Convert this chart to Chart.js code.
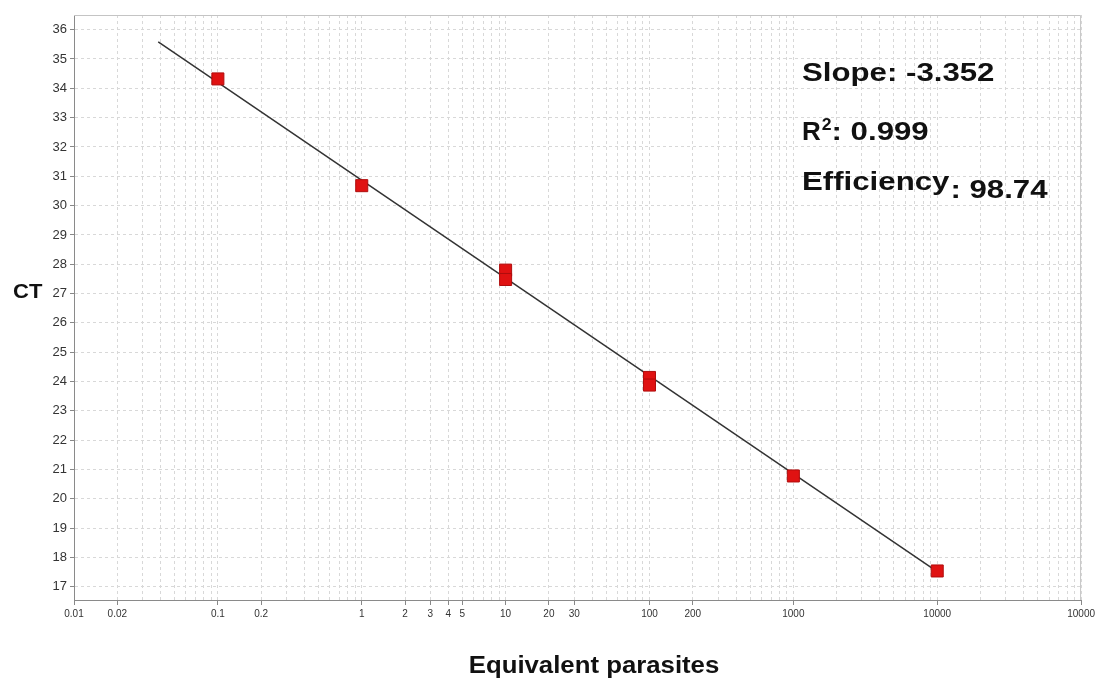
<!DOCTYPE html>
<html>
<head>
<meta charset="utf-8">
<script src="https://cdn.jsdelivr.net/npm/chart.js@4"></script>
<style>
  body { margin: 0; background: #fff; }
  canvas { display: block; }
</style>
</head>
<body>
<canvas id="myChart" width="1098" height="682"></canvas>
<script>
// Standard curve (CT vs equivalent parasites), log x axis

const standardX = [0.1, 1, 10, 10, 100, 100, 1000, 10000];        // equivalent parasites
const standardCT = [34.32, 30.68, 27.8, 27.48, 24.14, 23.88, 20.78, 17.54]; // measured CT

const fitX = [0.0385, 10000];   // regression line ends
const fitCT = [35.58, 17.52];

const xGridDecades = [0.01, 0.1, 1, 10, 100, 1000, 10000];
const xGridSteps = [1, 2, 3, 4, 5, 6, 7, 8, 9];
const xTickValues = [0.01, 0.02, 0.1, 0.2, 1, 2, 3, 4, 5, 10, 20, 30, 100, 200, 1000, 10000, 100000];
const xTickText = ['0.01', '0.02', '0.1', '0.2', '1', '2', '3', '4', '5', '10', '20', '30', '100', '200', '1000', '10000', '10000'];
const yTickValues = [17, 18, 19, 20, 21, 22, 23, 24, 25, 26, 27, 28, 29, 30, 31, 32, 33, 34, 35, 36];

const slopeText = 'Slope: -3.352';
const r2Text = '0.999';
const effText = '98.74';

// build tick list for the log grid
const xGridTicks = [];
xGridDecades.forEach(d => {
    xGridSteps.forEach(s => xGridTicks.push(+(d * s).toPrecision(3)));
});
xGridTicks.push(100000);

function labelFor(v) {
    const i = xTickValues.findIndex(t => Math.abs(t - v) / t < 1e-6);
    return i >= 0 ? xTickText[i] : '';
}

// draws horizontally stretched text, returns its drawn width
function wideText(ctx, text, x, y, sx) {
    ctx.save();
    ctx.translate(x, y);
    ctx.scale(sx, 1);
    ctx.fillText(text, 0, 0);
    ctx.restore();
    return ctx.measureText(text).width * sx;
}

const BIG = 'bold 26px "Liberation Sans", Arial, sans-serif';
const SX = 1.2;

const textPlugin = {
    id: 'texts',
    beforeDatasetsDraw(chart) {
        const {ctx, chartArea: a} = chart;
        ctx.save();
        ctx.strokeStyle = '#c4c4c4';
        ctx.lineWidth = 1;
        ctx.beginPath();
        ctx.moveTo(a.left, a.top + 0.5);
        ctx.lineTo(a.right - 0.5, a.top + 0.5);
        ctx.lineTo(a.right - 0.5, a.bottom);
        ctx.stroke();
        ctx.restore();
    },
    afterDraw(chart) {
        const ctx = chart.ctx;
        ctx.save();
        ctx.fillStyle = '#111';
        ctx.textBaseline = 'alphabetic';
        ctx.textAlign = 'left';

        ctx.font = BIG;
        wideText(ctx, slopeText, 802, 81, SX);

        // R squared
        let x = 802;
        x += wideText(ctx, 'R', x, 140, 1.0);
        ctx.font = 'bold 16px "Liberation Sans", Arial, sans-serif';
        x += wideText(ctx, '2', x + 1, 130, 1.1) + 1;
        ctx.font = BIG;
        wideText(ctx, ': ' + r2Text, x, 140, SX);

        x = 802;
        x += wideText(ctx, 'Efficiency', x, 190, SX);
        wideText(ctx, ': ' + effText, x + 1, 198, SX);

        // axis titles
        ctx.font = 'bold 20px "Liberation Sans", Arial, sans-serif';
        wideText(ctx, 'CT', 13, 298, 1.1);

        ctx.font = 'bold 23px "Liberation Sans", Arial, sans-serif';
        const t = 'Equivalent parasites';
        const w = ctx.measureText(t).width * 1.12;
        wideText(ctx, t, 594 - w / 2, 673, 1.12);
        ctx.restore();
    }
};

const ctx = document.getElementById('myChart');
const myChart = new Chart(ctx, {
    type: 'scatter',
    data: {
        datasets: [
            {
                label: 'Standards',
                data: standardX.map((x, i) => ({x: x, y: standardCT[i]})),
                pointStyle: 'rect',
                pointRadius: 8.5,
                backgroundColor: '#e01212',
                borderColor: '#b00d0d',
                borderWidth: 1
            },
            {
                label: 'Fit',
                data: fitX.map((x, i) => ({x: x, y: fitCT[i]})),
                showLine: true,
                pointRadius: 0,
                borderColor: '#333',
                borderWidth: 1.5
            }
        ]
    },
    options: {
        responsive: false,
        animation: false,
        layout: { padding: { top: 15, right: 15, left: 0, bottom: 0 } },
        scales: {
            x: {
                type: 'logarithmic',
                min: 0.01,
                max: 100000,
                afterBuildTicks: axis => { axis.ticks = xGridTicks.map(v => ({value: v})); },
                afterFit: axis => { axis.height = 82; },
                grid: {
                    color: '#d8d8d8',
                    tickLength: 5,
                    tickColor: c => (c.tick && labelFor(c.tick.value) !== '') ? '#888' : 'rgba(0,0,0,0)'
                },
                border: { color: '#8a8a8a', width: 1, dash: [3, 3] },
                ticks: {
                    autoSkip: false,
                    maxRotation: 0,
                    padding: 3,
                    color: '#333',
                    font: { family: '"Liberation Sans", Arial, sans-serif', size: 10 },
                    callback: value => labelFor(value)
                }
            },
            y: {
                min: 16.55,
                max: 36.5,
                afterBuildTicks: axis => { axis.ticks = yTickValues.map(v => ({value: v})); },
                afterFit: axis => { axis.width = 74; },
                grid: {
                    color: '#d8d8d8',
                    tickLength: 4,
                    tickColor: '#888'
                },
                border: { color: '#8a8a8a', width: 1, dash: [3, 3] },
                ticks: {
                    padding: 3,
                    color: '#333',
                    font: { family: '"Liberation Sans", Arial, sans-serif', size: 13 }
                }
            }
        },
        plugins: {
            legend: { display: false },
            tooltip: { enabled: false }
        }
    },
    plugins: [textPlugin]
});
</script>
</body>
</html>
